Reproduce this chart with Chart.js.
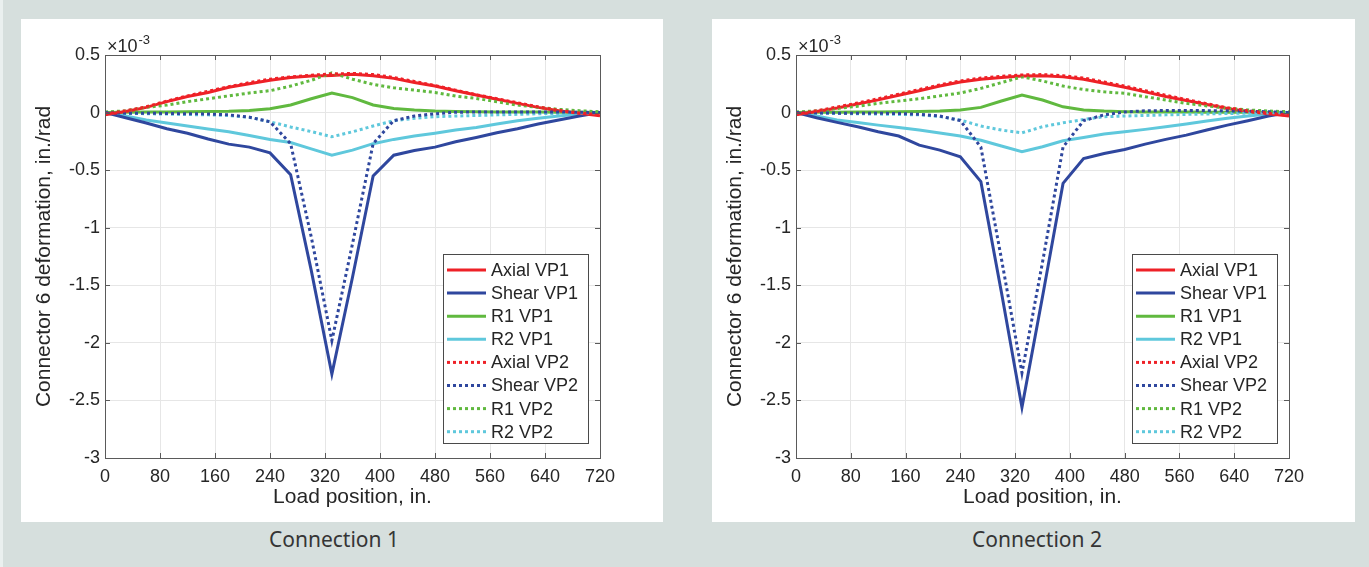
<!DOCTYPE html>
<html>
<head>
<meta charset="utf-8">
<script src="https://cdn.jsdelivr.net/npm/chart.js@4.4.1/dist/chart.umd.min.js"></script>
<style>
  body { margin: 0; width: 1369px; height: 567px; background: #d6dfdd; position: relative; overflow: hidden; font-family: "Liberation Sans", Arial, sans-serif; }
  .strip { position: absolute; left: 0; top: 0; width: 3px; height: 567px; background: #eaf0ef; }
  .panel { position: absolute; top: 19px; height: 503px; background: #fff; }
  .panel canvas { display: block; }
  .caption { position: absolute; top: 525px; line-height: 28px; font-family: "Noto Sans", "Open Sans", sans-serif; font-size: 21px; color: #353535; text-align: center; }
</style>
</head>
<body>
<div class="strip"></div>
<div class="panel" style="left:21px;width:642px"><canvas id="chart1" width="642" height="503"></canvas></div>
<div class="panel" style="left:712px;width:643px"><canvas id="chart2" width="643" height="503"></canvas></div>
<div class="caption" style="left:234px;width:200px">Connection 1</div>
<div class="caption" style="left:937px;width:200px">Connection 2</div>
<script>
// load position (in.) and connector deformation values (x 10^-3 in./rad)
const loadPos = [0, 30, 60, 90, 120, 150, 180, 210, 240, 270, 300, 330, 360, 390, 420, 450, 480, 510, 540, 570, 600, 630, 660, 690, 720];
const seriesNames = ['Axial VP1', 'Shear VP1', 'R1 VP1', 'R2 VP1', 'Axial VP2', 'Shear VP2', 'R1 VP2', 'R2 VP2'];
const xTicks = [0, 80, 160, 240, 320, 400, 480, 560, 640, 720];

// Connection 1
const axialVP1_c1 = [-0.02, 0.01, 0.045, 0.095, 0.14, 0.175, 0.22, 0.25, 0.28, 0.305, 0.317, 0.323, 0.332, 0.32, 0.297, 0.262, 0.23, 0.19, 0.152, 0.115, 0.08, 0.045, 0.016, -0.007, -0.028];
const shearVP1_c1 = [0, -0.045, -0.09, -0.14, -0.18, -0.23, -0.274, -0.30, -0.35, -0.54, -1.37, -2.27, -1.43, -0.55, -0.37, -0.33, -0.30, -0.254, -0.216, -0.175, -0.14, -0.10, -0.065, -0.03, 0];
const r1VP1_c1 = [0, 0.002, 0.004, 0.006, 0.008, 0.01, 0.012, 0.018, 0.033, 0.066, 0.12, 0.17, 0.13, 0.066, 0.036, 0.022, 0.014, 0.01, 0.008, 0.006, 0.005, 0.004, 0.003, 0.002, 0];
const r2VP1_c1 = [0, -0.03, -0.065, -0.09, -0.117, -0.142, -0.167, -0.2, -0.233, -0.26, -0.315, -0.37, -0.326, -0.27, -0.233, -0.204, -0.18, -0.152, -0.129, -0.1, -0.071, -0.05, -0.03, -0.013, 0];
const axialVP2_c1 = [-0.015, 0.015, 0.05, 0.1, 0.145, 0.185, 0.225, 0.26, 0.29, 0.31, 0.325, 0.335, 0.34, 0.33, 0.305, 0.27, 0.235, 0.195, 0.155, 0.12, 0.085, 0.05, 0.02, -0.003, -0.02];
const shearVP2_c1 = [0, -0.005, -0.005, -0.008, -0.01, -0.012, -0.02, -0.04, -0.08, -0.27, -1.08, -1.98, -1.14, -0.27, -0.07, -0.03, -0.01, 0.003, 0.005, 0.005, 0.005, 0.005, 0.005, 0.003, 0];
const r1VP2_c1 = [0.005, 0.015, 0.045, 0.065, 0.095, 0.12, 0.145, 0.17, 0.19, 0.23, 0.28, 0.345, 0.29, 0.245, 0.215, 0.195, 0.175, 0.143, 0.123, 0.094, 0.065, 0.045, 0.028, 0.016, 0.007];
const r2VP2_c1 = [0, -0.005, -0.01, -0.013, -0.017, -0.02, -0.025, -0.04, -0.08, -0.125, -0.165, -0.21, -0.167, -0.117, -0.071, -0.05, -0.036, -0.03, -0.025, -0.02, -0.015, -0.01, -0.007, -0.003, 0];

// Connection 2
const axialVP1_c2 = [-0.02, 0.01, 0.04, 0.075, 0.11, 0.15, 0.19, 0.23, 0.265, 0.29, 0.305, 0.317, 0.32, 0.31, 0.29, 0.255, 0.22, 0.18, 0.14, 0.105, 0.07, 0.035, 0.01, -0.01, -0.03];
const shearVP1_c2 = [0, -0.045, -0.085, -0.123, -0.167, -0.204, -0.283, -0.326, -0.384, -0.60, -1.56, -2.56, -1.6, -0.615, -0.40, -0.355, -0.32, -0.274, -0.233, -0.196, -0.152, -0.109, -0.071, -0.03, 0];
const r1VP1_c2 = [0, 0.002, 0.003, 0.004, 0.005, 0.007, 0.009, 0.013, 0.022, 0.045, 0.1, 0.152, 0.109, 0.05, 0.022, 0.013, 0.008, 0.006, 0.005, 0.004, 0.003, 0.003, 0.002, 0.001, 0];
const r2VP1_c2 = [0, -0.03, -0.065, -0.087, -0.109, -0.13, -0.152, -0.178, -0.204, -0.24, -0.29, -0.34, -0.297, -0.245, -0.216, -0.187, -0.167, -0.146, -0.123, -0.1, -0.074, -0.05, -0.03, -0.013, 0];
const axialVP2_c2 = [-0.015, 0.015, 0.048, 0.083, 0.12, 0.16, 0.2, 0.24, 0.275, 0.3, 0.315, 0.327, 0.33, 0.32, 0.3, 0.265, 0.23, 0.19, 0.15, 0.113, 0.077, 0.042, 0.015, -0.005, -0.025];
const shearVP2_c2 = [0, -0.003, -0.005, -0.005, -0.006, -0.008, -0.015, -0.03, -0.07, -0.30, -1.27, -2.26, -1.3, -0.30, -0.07, -0.02, 0.005, 0.015, 0.018, 0.018, 0.017, 0.015, 0.012, 0.007, 0];
const r1VP2_c2 = [0.005, 0.015, 0.035, 0.055, 0.08, 0.1, 0.12, 0.145, 0.17, 0.21, 0.26, 0.31, 0.275, 0.23, 0.2, 0.18, 0.167, 0.138, 0.109, 0.08, 0.058, 0.038, 0.023, 0.014, 0.007];
const r2VP2_c2 = [0, -0.004, -0.008, -0.01, -0.013, -0.016, -0.02, -0.035, -0.065, -0.117, -0.152, -0.176, -0.123, -0.089, -0.06, -0.036, -0.03, -0.025, -0.02, -0.016, -0.012, -0.008, -0.005, -0.003, 0];

const colors = ['#ee2127', '#2f479e', '#60b93f', '#5fc8dc'];
const textColor = '#262626';
const fontFamily = '"Liberation Sans", Arial, sans-serif';

function buildDatasets(values) {
    return values.map((vals, i) => ({
        label: seriesNames[i],
        data: vals.map((v, k) => ({ x: loadPos[k], y: v })),
        borderColor: colors[i % 4],
        backgroundColor: colors[i % 4],
        borderWidth: 3,
        borderDash: i < 4 ? [] : [3, 3],
        pointRadius: 0,
        tension: 0,
        fill: false,
        order: i < 4 ? 2 : 1
    }));
}

// MATLAB-like box, inward ticks, exponent label and inset legend
const matlabAxes = {
    id: 'matlabAxes',
    afterDatasetsDraw(chart) {
        const ctx = chart.ctx;
        const ca = chart.chartArea;
        const xs = chart.scales.x, ys = chart.scales.y;
        ctx.save();
        ctx.strokeStyle = '#5a5a5a';
        ctx.lineWidth = 1;
        ctx.beginPath();
        xs.ticks.forEach(t => {
            const px = Math.round(xs.getPixelForValue(t.value)) + 0.5;
            ctx.moveTo(px, ca.bottom); ctx.lineTo(px, ca.bottom - 5);
            ctx.moveTo(px, ca.top); ctx.lineTo(px, ca.top + 5);
        });
        ys.ticks.forEach(t => {
            const py = Math.round(ys.getPixelForValue(t.value)) + 0.5;
            ctx.moveTo(ca.left, py); ctx.lineTo(ca.left + 5, py);
            ctx.moveTo(ca.right, py); ctx.lineTo(ca.right - 5, py);
        });
        ctx.stroke();
        ctx.strokeRect(Math.round(ca.left) + 0.5, Math.round(ca.top) + 0.5,
            Math.round(ca.right - ca.left), Math.round(ca.bottom - ca.top));
        // exponent
        ctx.fillStyle = textColor;
        ctx.textBaseline = 'alphabetic';
        ctx.textAlign = 'left';
        ctx.font = '18px ' + fontFamily;
        ctx.fillText('\u00d710', ca.left + 2, ca.top - 3);
        const w = ctx.measureText('\u00d710').width;
        ctx.font = '13px ' + fontFamily;
        ctx.fillText('-3', ca.left + 2 + w + 1, ca.top - 11);
        ctx.restore();
    },
    afterDraw(chart) {
        const ctx = chart.ctx;
        const ca = chart.chartArea;
        const bw = 145, bh = 189;
        const bx = Math.round(ca.right - 12 - bw), by = Math.round(ca.bottom - 15 - bh);
        ctx.save();
        ctx.fillStyle = '#fff';
        ctx.fillRect(bx, by, bw, bh);
        ctx.strokeStyle = '#4a4a4a';
        ctx.lineWidth = 1;
        ctx.strokeRect(bx + 0.5, by + 0.5, bw, bh);
        ctx.font = '18px ' + fontFamily;
        ctx.textBaseline = 'middle';
        ctx.textAlign = 'left';
        chart.data.datasets.forEach((ds, i) => {
            const y = by + 16 + i * 23.1;
            ctx.strokeStyle = ds.borderColor;
            ctx.lineWidth = 3;
            ctx.setLineDash(ds.borderDash);
            ctx.beginPath();
            ctx.moveTo(bx + 4, y);
            ctx.lineTo(bx + 43, y);
            ctx.stroke();
            ctx.setLineDash([]);
            ctx.fillStyle = textColor;
            ctx.fillText(ds.label, bx + 48, y + 1);
        });
        ctx.restore();
    }
};

function makeChart(id, values, rightPad) {
    const ctx = document.getElementById(id).getContext('2d');
    return new Chart(ctx, {
        type: 'line',
        data: { datasets: buildDatasets(values) },
        options: {
            responsive: false,
            animation: false,
            layout: { padding: { top: 36, right: rightPad, left: 0, bottom: 0 } },
            plugins: { legend: { display: false }, tooltip: { enabled: false } },
            scales: {
                x: {
                    type: 'linear',
                    min: 0,
                    max: 720,
                    afterBuildTicks: s => { s.ticks = xTicks.map(v => ({ value: v })); },
                    afterFit: s => { s.height = 64; },
                    ticks: { color: textColor, padding: 8, maxRotation: 0, autoSkip: false,
                             font: { family: fontFamily, size: 18 } },
                    grid: { color: '#e6e6e6', drawTicks: false },
                    border: { display: false },
                    title: { display: true, text: 'Load position, in.', color: textColor,
                             font: { family: fontFamily, size: 21 }, padding: { top: 0, bottom: 12 } }
                },
                y: {
                    min: -3,
                    max: 0.5,
                    afterFit: s => { s.width = 84; },
                    ticks: { stepSize: 0.5, color: textColor, padding: 5,
                             font: { family: fontFamily, size: 18 },
                             callback: v => String(Number(v.toFixed(2))) },
                    grid: { color: '#e6e6e6', drawTicks: false },
                    border: { display: false },
                    title: { display: true, text: 'Connector 6 deformation, in./rad', color: textColor,
                             font: { family: fontFamily, size: 21 }, padding: { top: 11, bottom: 0 } }
                }
            }
        },
        plugins: [matlabAxes]
    });
}

makeChart('chart1', [axialVP1_c1, shearVP1_c1, r1VP1_c1, r2VP1_c1, axialVP2_c1, shearVP2_c1, r1VP2_c1, r2VP2_c1], 63);
makeChart('chart2', [axialVP1_c2, shearVP1_c2, r1VP1_c2, r2VP1_c2, axialVP2_c2, shearVP2_c2, r1VP2_c2, r2VP2_c2], 66);
</script>
</body>
</html>
